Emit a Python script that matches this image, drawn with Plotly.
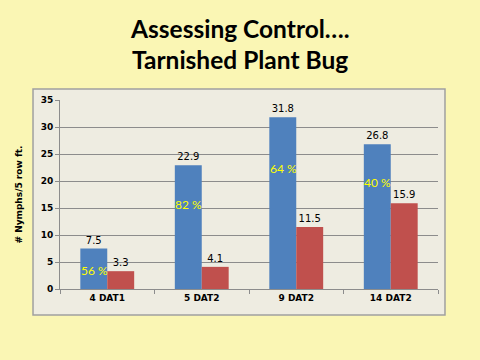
import plotly.graph_objects as go

categories = ["4 DAT1", "5 DAT2", "9 DAT2", "14 DAT2"]
untreated = [7.5, 22.9, 31.8, 26.8]
treated = [3.3, 4.1, 11.5, 15.9]
pct_labels = ["56 %", "82 %", "64 %", "40 %"]
pct_label_y = [3.5, 15.6, 22.4, 19.8]
title_lines = ["Assessing Control….", "Tarnished Plant Bug"]

fig = go.Figure()
fig.add_trace(go.Bar(x=categories, y=untreated, marker_color="#4F81BD",
                     marker_line_width=0,
                     text=[f"{v:.1f}" for v in untreated], textposition="outside",
                     textfont=dict(family="DejaVu Sans", size=10, color="black"),
                     cliponaxis=False))
fig.add_trace(go.Bar(x=categories, y=treated, marker_color="#C0504D",
                     marker_line_width=0,
                     text=[f"{v:.1f}" for v in treated], textposition="outside",
                     textfont=dict(family="DejaVu Sans", size=10, color="black"),
                     cliponaxis=False))

for i, (lab, yv) in enumerate(zip(pct_labels, pct_label_y)):
    fig.add_annotation(x=i - 0.14, y=yv, xref="x", yref="y", text=lab,
                       showarrow=False,
                       font=dict(family="Lato", size=12, color="#FFFF00"))

for line, ypos in zip(title_lines, [1.38, 1.215]):
    fig.add_annotation(x=0.476, y=ypos, xref="paper", yref="paper",
                       text=f"<b>{line}</b>", showarrow=False,
                       xanchor="center", yanchor="middle",
                       font=dict(family="Lato", size=24.5, color="black"))

# chart-area box
fig.add_shape(type="rect", xref="paper", yref="paper",
              x0=-0.0714, x1=1.0185, y0=-0.1376, y1=1.058,
              fillcolor="#EEECE1", line=dict(color="#A0A0A0", width=1.5),
              layer="below")

fig.update_layout(
    width=480, height=360,
    margin=dict(l=60, r=42, t=100, b=71),
    paper_bgcolor="#FAF6B4",
    plot_bgcolor="#EEECE1",
    showlegend=False,
    barmode="group",
    bargap=0.43,
    bargroupgap=0,
    xaxis=dict(showgrid=False, showline=True, linecolor="#8C8C8C",
               ticks="outside", tickson="boundaries", ticklen=4,
               tickcolor="#8C8C8C",
               tickfont=dict(family="DejaVu Sans", size=9, color="black"),
               fixedrange=True),
    yaxis=dict(range=[0, 35], dtick=5, showgrid=True, gridcolor="#8C8C8C",
               gridwidth=1, showline=True, linecolor="#8C8C8C",
               ticks="outside", ticklen=4, tickcolor="#8C8C8C",
               tickfont=dict(family="DejaVu Sans", size=9, color="black"),
               title=dict(text="<b># Nymphs/5 row ft.</b>", standoff=16,
                          font=dict(family="DejaVu Sans", size=9, color="black")),
               zeroline=False),
    font=dict(family="DejaVu Sans"),
)
fig.update_yaxes(tickprefix="<b>", ticksuffix="</b>")
fig.update_xaxes(tickprefix="<b>", ticksuffix="</b>")

fig.write_html("out.html", config={"displayModeBar": False},
               post_script="document.body.style.margin='0';")
